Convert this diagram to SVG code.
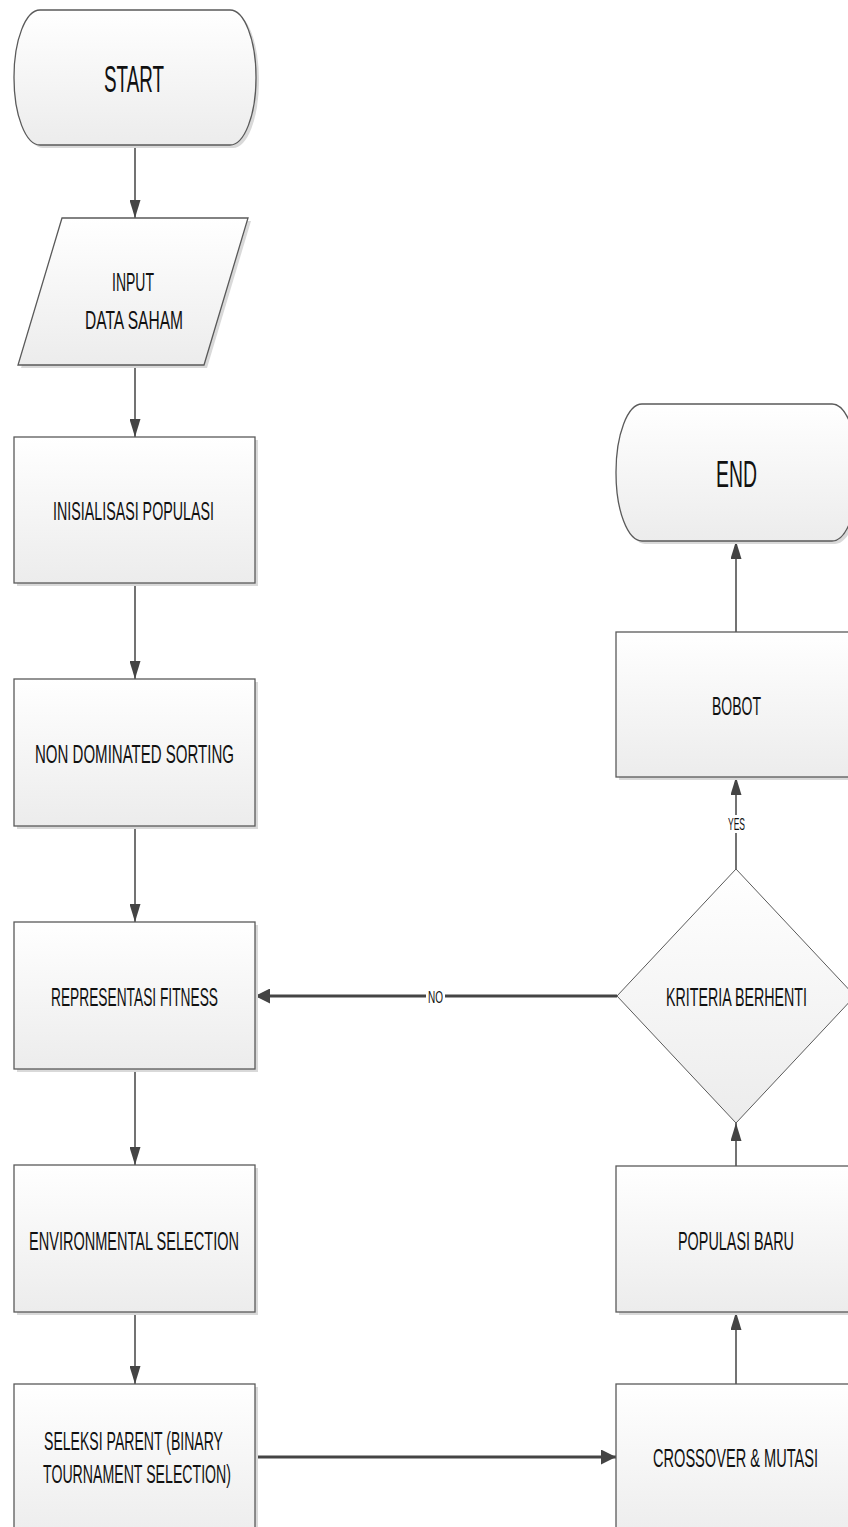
<svg xmlns="http://www.w3.org/2000/svg" width="848" height="1527" viewBox="0 0 848 1527">
<style>
.shape{fill:url(#g);stroke:#5a5a5a;stroke-width:1.3}
.shadow{fill:#d9d9d9;stroke:none}
.t{font-family:"Liberation Sans",Arial,sans-serif;fill:#111;text-anchor:middle}
.big{font-size:36px}
.mid{font-size:26px}
.small{font-size:17px}
.line{stroke:#444;stroke-width:1.5;fill:none}
.thick{stroke:#444;stroke-width:3;fill:none}
</style>
<defs>
<linearGradient id="g" x1="0" y1="0" x2="0" y2="1">
<stop offset="0" stop-color="#ffffff"/>
<stop offset="1" stop-color="#ececec"/>
</linearGradient>
<marker id="a" markerUnits="userSpaceOnUse" markerWidth="18" markerHeight="11" refX="18" refY="5.5" orient="auto">
<path d="M0,0 L18,5.5 L0,11 z" fill="#444"/>
</marker>
<marker id="ab" markerUnits="userSpaceOnUse" markerWidth="15" markerHeight="15" refX="15" refY="7.5" orient="auto">
<path d="M0,0 L15,7.5 L0,15 z" fill="#444"/>
</marker>
</defs>

<g id="connectors">
<line class="line" x1="135" y1="145" x2="135" y2="218" marker-end="url(#a)"/>
<line class="line" x1="135" y1="365" x2="135" y2="437" marker-end="url(#a)"/>
<line class="line" x1="135" y1="583" x2="135" y2="679" marker-end="url(#a)"/>
<line class="line" x1="135" y1="826" x2="135" y2="922" marker-end="url(#a)"/>
<line class="line" x1="135" y1="1069" x2="135" y2="1165" marker-end="url(#a)"/>
<line class="line" x1="135" y1="1312" x2="135" y2="1384" marker-end="url(#a)"/>
<line class="thick" x1="255" y1="1457" x2="616" y2="1457" marker-end="url(#ab)"/>
<line class="line" x1="736" y1="1384" x2="736" y2="1312" marker-end="url(#a)"/>
<line class="line" x1="736" y1="1166" x2="736" y2="1123" marker-end="url(#a)"/>
<line class="thick" x1="617" y1="996" x2="255" y2="996" marker-end="url(#ab)"/>
<line class="line" x1="736" y1="869" x2="736" y2="777" marker-end="url(#a)"/>
<line class="line" x1="736" y1="632" x2="736" y2="541" marker-end="url(#a)"/>
<rect x="426" y="987" width="19" height="18" fill="#fff"/>
<text class="t small" x="435.5" y="1003" textLength="15" lengthAdjust="spacingAndGlyphs">NO</text>
<rect x="726" y="815" width="21" height="18" fill="#fff"/>
<text class="t small" x="736.5" y="830" textLength="17" lengthAdjust="spacingAndGlyphs">YES</text>
</g>

<g id="start">
<rect class="shadow" x="17" y="13" width="242" height="135" rx="26" ry="67"/>
<rect class="shape" x="14" y="10" width="242" height="135" rx="26" ry="67"/>
<text class="t big" x="134" y="92" textLength="60" lengthAdjust="spacingAndGlyphs">START</text>
</g>

<g id="input">
<polygon class="shadow" points="65,221 251,221 207,368 21,368"/>
<polygon class="shape" points="62,218 248,218 204,365 18,365"/>
<text class="t mid" x="133" y="291" textLength="42" lengthAdjust="spacingAndGlyphs">INPUT</text>
<text class="t mid" x="134" y="329" textLength="98" lengthAdjust="spacingAndGlyphs">DATA SAHAM</text>
</g>

<g id="inisialisasi">
<rect class="shadow" x="17" y="440" width="241" height="146"/>
<rect class="shape" x="14" y="437" width="241" height="146"/>
<text class="t mid" x="133.5" y="520" textLength="161" lengthAdjust="spacingAndGlyphs">INISIALISASI POPULASI</text>
</g>

<g id="nondominated">
<rect class="shadow" x="17" y="682" width="241" height="147"/>
<rect class="shape" x="14" y="679" width="241" height="147"/>
<text class="t mid" x="134.5" y="763" textLength="199" lengthAdjust="spacingAndGlyphs">NON DOMINATED SORTING</text>
</g>

<g id="representasi">
<rect class="shadow" x="17" y="925" width="241" height="147"/>
<rect class="shape" x="14" y="922" width="241" height="147"/>
<text class="t mid" x="134.5" y="1006" textLength="167" lengthAdjust="spacingAndGlyphs">REPRESENTASI FITNESS</text>
</g>

<g id="environmental">
<rect class="shadow" x="17" y="1168" width="241" height="147"/>
<rect class="shape" x="14" y="1165" width="241" height="147"/>
<text class="t mid" x="134" y="1250" textLength="210" lengthAdjust="spacingAndGlyphs">ENVIRONMENTAL SELECTION</text>
</g>

<g id="seleksi">
<rect class="shadow" x="17" y="1387" width="241" height="160"/>
<rect class="shape" x="14" y="1384" width="241" height="160"/>
<text class="t mid" x="133.5" y="1450" textLength="179" lengthAdjust="spacingAndGlyphs">SELEKSI PARENT (BINARY</text>
<text class="t mid" x="137" y="1483" textLength="188" lengthAdjust="spacingAndGlyphs">TOURNAMENT SELECTION)</text>
</g>

<g id="crossover">
<rect class="shadow" x="619" y="1387" width="241" height="160"/>
<rect class="shape" x="616" y="1384" width="241" height="160"/>
<text class="t mid" x="735.5" y="1467" textLength="165" lengthAdjust="spacingAndGlyphs">CROSSOVER &amp; MUTASI</text>
</g>

<g id="populasibaru">
<rect class="shadow" x="619" y="1169" width="241" height="146"/>
<rect class="shape" x="616" y="1166" width="241" height="146"/>
<text class="t mid" x="736" y="1250" textLength="116" lengthAdjust="spacingAndGlyphs">POPULASI BARU</text>
</g>

<g id="kriteria">
<polygon class="shape" style="stroke-width:1" points="736,869 855,996 736,1123 617,996"/>
<text class="t mid" x="736.5" y="1006" textLength="141" lengthAdjust="spacingAndGlyphs">KRITERIA BERHENTI</text>
</g>

<g id="bobot">
<rect class="shadow" x="619" y="635" width="241" height="145"/>
<rect class="shape" x="616" y="632" width="241" height="145"/>
<text class="t mid" x="736.5" y="715" textLength="49" lengthAdjust="spacingAndGlyphs">BOBOT</text>
</g>

<g id="end">
<rect class="shadow" x="619" y="407" width="242" height="137" rx="26" ry="68"/>
<rect class="shape" x="616" y="404" width="242" height="137" rx="26" ry="68"/>
<text class="t big" x="736.5" y="487" textLength="41" lengthAdjust="spacingAndGlyphs">END</text>
</g>
</svg>
